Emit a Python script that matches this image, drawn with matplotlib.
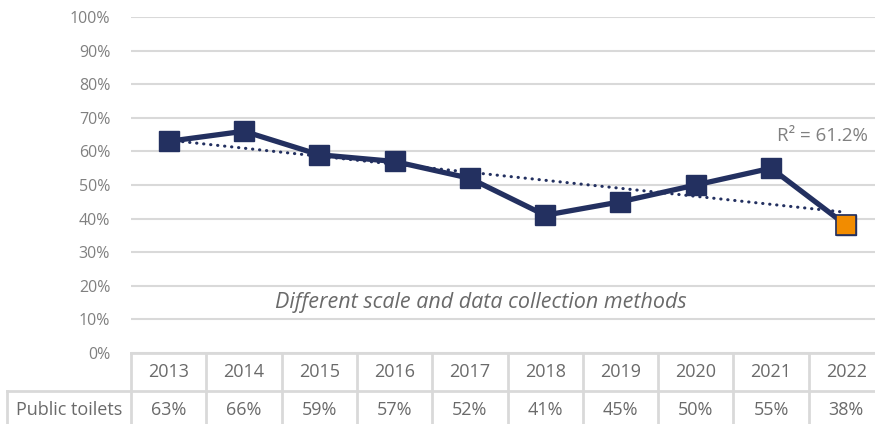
import numpy as np
import matplotlib.pyplot as plt

years = ['2013', '2014', '2015', '2016', '2017', '2018', '2019', '2020', '2021', '2022']
toilets = [63, 66, 59, 57, 52, 41, 45, 50, 55, 38]  # %
row_label = 'Public toilets'
note = 'Different scale and data collection methods'
r2_label = 'R² = 61.2%'

navy = '#233060'
orange = '#f28c00'
grid_col = '#d9d9d9'
txt_col = '#808080'
tab_col = '#6a6a6a'

plt.rcParams['font.family'] = ['Open Sans', 'DejaVu Sans']

W, H = 875, 424
fig = plt.figure(figsize=(W/100, H/100), dpi=100)

# plot area in pixels (right edge runs past the figure, clipped like the source)
x0, x1 = 131, 884
ytop, ybot = 17, 353
ax = fig.add_axes([x0/W, (H-ybot)/H, (x1-x0)/W, (ybot-ytop)/H])

x = np.arange(len(years))
y = np.array(toilets)

# linear trend line
k, b = np.polyfit(x, y, 1)
ax.plot(x, k*x + b, color=navy, lw=2.2, ls=(0, (0.1, 2.2)), dash_capstyle='round', zorder=2)

ax.plot(x, y, color=navy, lw=3.8, marker='s', ms=14, mfc=navy, mec=navy, zorder=3)
ax.plot(x[-1], y[-1], marker='s', ms=14, mfc=orange, mec=navy, mew=1.2, ls='none', zorder=4)

ax.set_xlim(-0.5, len(years) - 0.5)
ax.set_ylim(0, 100)
ax.set_yticks(range(0, 101, 10))
ax.set_yticklabels(['%d%%' % v for v in range(0, 101, 10)], color=txt_col, fontsize=11.5)
ax.tick_params(axis='y', length=0, pad=15)
ax.set_xticks([])
ax.grid(axis='y', color=grid_col, lw=1.5)
ax.set_axisbelow(True)
for s in ax.spines.values():
    s.set_visible(False)

ax.text(4.15, 15, note, ha='center', va='center', style='italic', color=tab_col, fontsize=15.5)
ax.text(9.28, 64.5, r2_label, ha='right', va='center', color=txt_col, fontsize=13.5)

# data table below the plot
tb = fig.add_axes([x0/W, (H-429)/H, (x1-x0)/W, 76/H])
tb.set_xlim(-0.5, len(years) - 0.5)
tb.set_ylim(0, 2)
tb.axis('off')
lbl_left = -0.5 - (x0 - 7) / ((x1 - x0) / len(years))
kw = dict(color=grid_col, lw=2, clip_on=False)
tb.plot([-0.5, len(years) - 0.5], [2, 2], **kw)
tb.plot([lbl_left, len(years) - 0.5], [1, 1], **kw)
tb.plot([lbl_left, lbl_left], [0, 1], **kw)
for i in range(len(years) + 1):
    tb.plot([i - 0.5, i - 0.5], [0, 2], **kw)
for i, (yr, v) in enumerate(zip(years, toilets)):
    tb.text(i, 1.5, yr, ha='center', va='center', color=tab_col, fontsize=13, clip_on=False)
    tb.text(i, 0.5, '%d%%' % v, ha='center', va='center', color=tab_col, fontsize=13, clip_on=False)
tb.text((lbl_left - 0.5) / 2, 0.5, row_label, ha='center', va='center', color=tab_col, fontsize=13)

fig.savefig('out.png', dpi=100)
